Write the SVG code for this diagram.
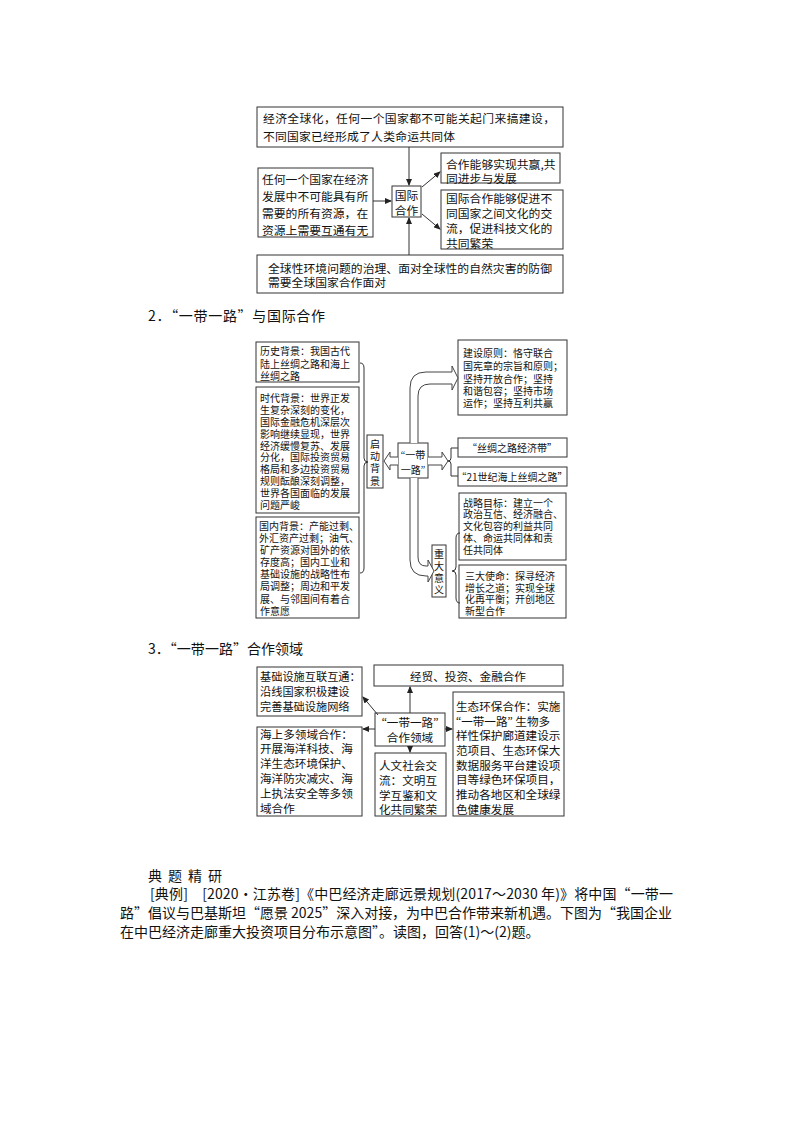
<svg xmlns="http://www.w3.org/2000/svg" width="794" height="1123" viewBox="0 0 794 1123">
<defs>
<marker id="ah" markerWidth="7" markerHeight="6" refX="6" refY="3" orient="auto" markerUnits="userSpaceOnUse">
<path d="M0,0 L7,3 L0,6 Z" fill="#222"/>
</marker>
<style>
.b{fill:#fff;stroke:#333;stroke-width:1}
.l{fill:none;stroke:#333;stroke-width:1}
.ha{fill:#fff;stroke:#444;stroke-width:1}
text{font-family:"Noto Sans CJK SC","Liberation Sans",sans-serif;fill:#111;dominant-baseline:central}
.q{font-family:"Liberation Serif",serif}
.s1{font-size:11.8px}
.s2{font-size:10px}
.s3{font-size:11.2px}
.s3r{font-size:11.6px}
.t{font-size:14px}
.p{font-size:14px}
.c{text-anchor:middle}
</style>
</defs>
<rect width="794" height="1123" fill="#fff"/>

<!-- Section 1 -->
<g id="s1-top"><rect class="b" x="257" y="107" width="306" height="40"/>
<text class="s1" x="263" y="117" textLength="292" lengthAdjust="spacing">经济全球化，任何一个国家都不可能关起门来搞建设，</text>
<text class="s1" x="263" y="135" textLength="192" lengthAdjust="spacing">不同国家已经形成了人类命运共同体</text></g>
<g id="s1-left"><rect class="b" x="258" y="168" width="115" height="69"/>
<text class="s1" x="262" y="178">任何一个国家在经济</text>
<text class="s1" x="262" y="195">发展中不可能具有所</text>
<text class="s1" x="262" y="212">需要的所有资源，在</text>
<text class="s1" x="262" y="229">资源上需要互通有无</text></g>
<g id="s1-center"><rect class="b" x="392" y="186" width="29" height="31"/>
<text class="s1 c" x="406.5" y="194">国际</text>
<text class="s1 c" x="406.5" y="209">合作</text></g>
<g id="s1-rt"><rect class="b" x="441" y="153" width="119" height="30"/>
<text class="s1" x="446" y="163">合作能够实现共赢,共</text>
<text class="s1" x="446" y="177">同进步与发展</text></g>
<g id="s1-rb"><rect class="b" x="441" y="190" width="122" height="59"/>
<text class="s1" x="446" y="197">国际合作能够促进不</text>
<text class="s1" x="446" y="212">同国家之间文化的交</text>
<text class="s1" x="446" y="227">流，促进科技文化的</text>
<text class="s1" x="446" y="242">共同繁荣</text></g>
<g id="s1-bottom"><rect class="b" x="257" y="255" width="306" height="38"/>
<text class="s1" x="268" y="267" textLength="284" lengthAdjust="spacing">全球性环境问题的治理、面对全球性的自然灾害的防御</text>
<text class="s1" x="268" y="281">需要全球国家合作面对</text></g>
<g id="s1-connectors">
<line class="l" x1="409" y1="147" x2="409" y2="185" marker-end="url(#ah)"/>
<line class="l" x1="373" y1="201" x2="391" y2="201" marker-end="url(#ah)"/>
<line class="l" x1="409" y1="255" x2="409" y2="218" marker-end="url(#ah)"/>
<line class="l" x1="422" y1="187" x2="440" y2="172" marker-end="url(#ah)"/>
<line class="l" x1="422" y1="214" x2="440" y2="229" marker-end="url(#ah)"/>
</g>

<text class="t" x="148" y="315" textLength="177" lengthAdjust="spacing">2．“一带一路”与国际合作</text>

<!-- Section 2 -->
<g id="s2-hist"><rect class="b" x="256" y="342" width="103" height="40"/>
<text class="s2" x="260" y="350">历史背景：我国古代</text>
<text class="s2" x="260" y="363">陆上丝绸之路和海上</text>
<text class="s2" x="260" y="375">丝绸之路</text></g>
<g id="s2-era"><rect class="b" x="256" y="387" width="103" height="126"/>
<text class="s2" x="260" y="397">时代背景：世界正发</text>
<text class="s2" x="260" y="409">生复杂深刻的变化，</text>
<text class="s2" x="260" y="421">国际金融危机深层次</text>
<text class="s2" x="260" y="433">影响继续显现，世界</text>
<text class="s2" x="260" y="445">经济缓慢复苏、发展</text>
<text class="s2" x="260" y="456">分化，国际投资贸易</text>
<text class="s2" x="260" y="468">格局和多边投资贸易</text>
<text class="s2" x="260" y="480">规则酝酿深刻调整，</text>
<text class="s2" x="260" y="492">世界各国面临的发展</text>
<text class="s2" x="260" y="504">问题严峻</text></g>
<g id="s2-dom"><rect class="b" x="256" y="517" width="103" height="101"/>
<text class="s2" x="259" y="525">国内背景：产能过剩、</text>
<text class="s2" x="259" y="537">外汇资产过剩；油气、</text>
<text class="s2" x="260" y="549">矿产资源对国外的依</text>
<text class="s2" x="260" y="561">存度高；国内工业和</text>
<text class="s2" x="260" y="573">基础设施的战略性布</text>
<text class="s2" x="260" y="585">局调整；周边和平发</text>
<text class="s2" x="260" y="598">展、与邻国间有着合</text>
<text class="s2" x="260" y="610">作意愿</text></g>
<g id="s2-start"><rect class="b" x="367" y="435" width="16" height="53"/>
<text class="s2 c" x="375" y="443">启</text>
<text class="s2 c" x="375" y="455">动</text>
<text class="s2 c" x="375" y="467">背</text>
<text class="s2 c" x="375" y="480">景</text></g>
<g id="s2-core"><rect class="b" x="398" y="443" width="30" height="35"/>
<text class="s2 c" x="413" y="454"><tspan class="q">“</tspan>一带</text>
<text class="s2 c" x="413" y="469">一路<tspan class="q">”</tspan></text></g>
<g id="s2-principle"><rect class="b" x="458" y="340" width="109" height="75"/>
<text class="s2" x="463" y="352">建设原则：恪守联合</text>
<text class="s2" x="463" y="365">国宪章的宗旨和原则；</text>
<text class="s2" x="463" y="378">坚持开放合作；坚持</text>
<text class="s2" x="463" y="390">和谐包容；坚持市场</text>
<text class="s2" x="463" y="402">运作；坚持互利共赢</text></g>
<g id="s2-belt"><rect class="b" x="458" y="438" width="109" height="19"/>
<text class="s2 c" x="512" y="447.5">“丝绸之路经济带”</text></g>
<g id="s2-road"><rect class="b" x="458" y="467" width="109" height="19"/>
<text class="s2 c" x="512" y="476.5">“21世纪海上丝绸之路”</text></g>
<g id="s2-sig"><rect class="b" x="432" y="545" width="14" height="52"/>
<text class="s2 c" x="439" y="553">重</text>
<text class="s2 c" x="439" y="565">大</text>
<text class="s2 c" x="439" y="577">意</text>
<text class="s2 c" x="439" y="589">义</text></g>
<g id="s2-goal"><rect class="b" x="459" y="493" width="107" height="67"/>
<text class="s2" x="463" y="502">战略目标：建立一个</text>
<text class="s2" x="463" y="513">政治互信、经济融合、</text>
<text class="s2" x="463" y="525">文化包容的利益共同</text>
<text class="s2" x="463" y="537">体、命运共同体和责</text>
<text class="s2" x="463" y="549">任共同体</text></g>
<g id="s2-mission"><rect class="b" x="459" y="565" width="107" height="53"/>
<text class="s2" x="465" y="575">三大使命：探寻经济</text>
<text class="s2" x="465" y="587">增长之道；实现全球</text>
<text class="s2" x="465" y="598">化再平衡；开创地区</text>
<text class="s2" x="465" y="610">新型合作</text></g>
<g id="s2-connectors">
<path class="l" d="M360,363 Q364,363 364,368 L364,458 Q364,462 368,462 Q364,462 364,466 L364,568 Q364,573 360,573"/>
<path class="ha" d="M398,457 L390,457 L390,452 L384,461 L390,470 L390,465 L398,465"/>
<path class="ha" d="M428,457 L442,457 L442,452 L448,461 L442,470 L442,465 L428,465"/>
<path class="l" d="M458,448 L451,448 L451,458 Q451,461 448,461 Q451,461 451,464 L451,476 L458,476"/>
<path class="ha" d="M410,443 L410,388 Q410,372 426,372 L452,372 L452,366 L458,378 L452,390 L452,384 L430,384 Q418,384 418,396 L418,443"/>
<path class="ha" d="M410,478 L410,560 Q410,576 426,576 L428,576 L428,582 L434,571 L428,560 L428,566 L426,566 Q418,566 418,557 L418,478"/>
<path class="l" d="M460,533 Q456,533 456,538 L456,567 Q456,571 452,571 Q456,571 456,575 L456,598 Q456,603 460,603"/>
</g>

<text class="t" x="148" y="648" textLength="155" lengthAdjust="spacing">3．“一带一路”合作领域</text>

<!-- Section 3 -->
<g id="s3-infra"><rect class="b" x="257" y="667" width="105" height="49"/>
<text class="s3" x="260" y="676">基础设施互联互通：</text>
<text class="s3" x="260" y="691">沿线国家积极建设</text>
<text class="s3" x="260" y="706">完善基础设施网络</text></g>
<g id="s3-trade"><rect class="b" x="374" y="665" width="189" height="21"/>
<text class="s3r c" x="468" y="675.5">经贸、投资、金融合作</text></g>
<g id="s3-center"><rect class="b" x="375" y="713" width="70" height="33"/>
<text class="s3r c" x="410" y="721.5"><tspan class="q">“</tspan>一带一路<tspan class="q">”</tspan></text>
<text class="s3r c" x="410" y="736.5">合作领域</text></g>
<g id="s3-eco"><rect class="b" x="453" y="692" width="111" height="124"/>
<text class="s3r" x="456" y="706">生态环保合作：实施</text>
<text class="s3r" x="456" y="721"><tspan class="q">“</tspan>一带一路<tspan class="q">”</tspan> 生物多</text>
<text class="s3r" x="456" y="735">样性保护廊道建设示</text>
<text class="s3r" x="456" y="750">范项目、生态环保大</text>
<text class="s3r" x="456" y="765">数据服务平台建设项</text>
<text class="s3r" x="456" y="779">目等绿色环保项目，</text>
<text class="s3r" x="456" y="794">推动各地区和全球绿</text>
<text class="s3r" x="456" y="809">色健康发展</text></g>
<g id="s3-sea"><rect class="b" x="257" y="727" width="105" height="89"/>
<text class="s3r" x="260" y="734">海上多领域合作：</text>
<text class="s3r" x="260" y="748">开展海洋科技、海</text>
<text class="s3r" x="260" y="763">洋生态环境保护、</text>
<text class="s3r" x="260" y="778">海洋防灾减灾、海</text>
<text class="s3r" x="260" y="793">上执法安全等多领</text>
<text class="s3r" x="260" y="808">域合作</text></g>
<g id="s3-culture"><rect class="b" x="375" y="753" width="71" height="63"/>
<text class="s3r" x="379" y="765">人文社会交</text>
<text class="s3r" x="379" y="780">流：文明互</text>
<text class="s3r" x="379" y="795">学互鉴和文</text>
<text class="s3r" x="379" y="809">化共同繁荣</text></g>
<g id="s3-connectors">
<line class="l" x1="410" y1="713" x2="410" y2="687" marker-end="url(#ah)"/>
<line class="l" x1="378" y1="715" x2="363" y2="697" marker-end="url(#ah)"/>
<line class="l" x1="375" y1="729" x2="363" y2="729" marker-end="url(#ah)"/>
<line class="l" x1="445" y1="729" x2="452" y2="729" marker-end="url(#ah)"/>
<line class="l" x1="410" y1="746" x2="410" y2="752" marker-end="url(#ah)"/>
</g>

<!-- Paragraph -->
<text class="p" x="148" y="875" letter-spacing="6">典题精研</text>
<text class="p" x="150" y="893" textLength="523" lengthAdjust="spacing">[典例]　[2020·江苏卷]《中巴经济走廊远景规划(2017～2030 年)》将中国“一带一</text>
<text class="p" x="120" y="912" textLength="552" lengthAdjust="spacing">路”倡议与巴基斯坦“愿景 2025”深入对接，为中巴合作带来新机遇。下图为“我国企业</text>
<text class="p" x="120" y="931">在中巴经济走廊重大投资项目分布示意图”。读图，回答(1)～(2)题。</text>
</svg>
